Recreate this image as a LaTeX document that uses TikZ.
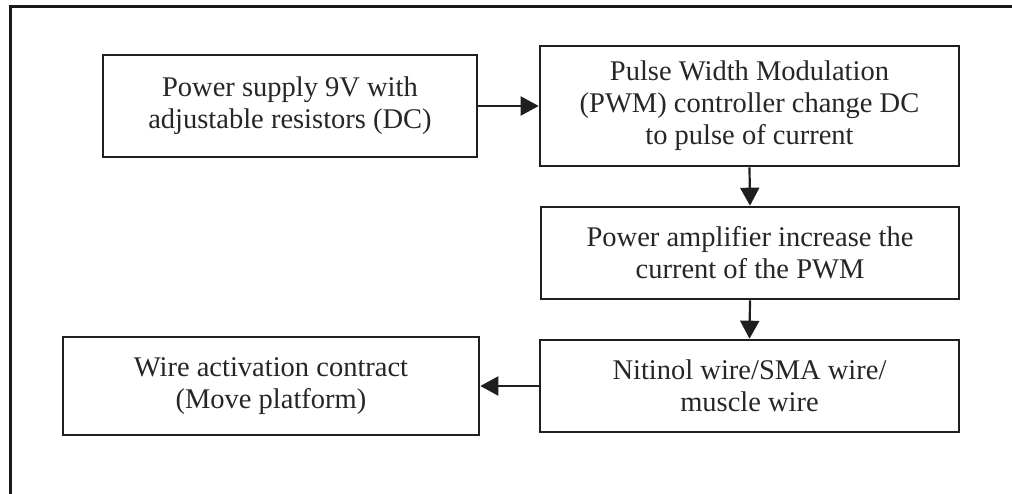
\documentclass[tikz,border=0pt]{standalone}
\usepackage{fontspec}
\setmainfont{Liberation Serif}
\usetikzlibrary{arrows.meta}
\begin{document}
\begin{tikzpicture}[x=1pt,y=-1pt,
  blk/.style={draw=black!88, line width=2.6pt, inner sep=0pt, align=center,
    text=black!85, font=\fontsize{28.5}{32}\selectfont},
  link/.style={draw=black!88, line width=2.2pt, -{Triangle[length=18pt,width=19pt]}}]
\useasboundingbox (0,0) rectangle (1012,494);
% frame (top and left edges)
\draw[line width=3pt, black!90] (10,494) -- (10,7) -- (1012,7);
% blocks
\node[blk, minimum width=374pt, minimum height=102pt] (supply) at (290,106)
  {Power supply 9V with\\adjustable resistors (DC)};
\node[blk, minimum width=419pt, minimum height=120pt] (pwm) at (749.5,106)
  {Pulse Width Modulation\\(PWM) controller change DC\\to pulse of current};
\node[blk, minimum width=418pt, minimum height=92pt] (amp) at (750,253)
  {Power amplifier increase the\\current of the PWM};
\node[blk, minimum width=419pt, minimum height=92pt] (niti) at (749.5,386)
  {Nitinol wire/SMA wire/\\muscle wire};
\node[blk, minimum width=416pt, minimum height=98pt] (act) at (271,386)
  {Wire activation contract\\(Move platform)};
% connectors
\draw[link] (supply.east) -- (pwm.west);
\draw[link] (pwm.south) -- (amp.north);
\draw[link] (amp.south) -- (niti.north);
\draw[link] (niti.west) -- (act.east);
\end{tikzpicture}
\end{document}
